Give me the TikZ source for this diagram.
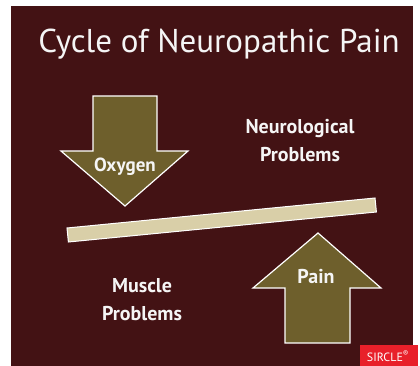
\documentclass[tikz,border=0pt]{standalone}
\usepackage{fontspec}
\setmainfont{PT Sans}
\newfontfamily\labelfont{PT Sans}
\usetikzlibrary{positioning}

\definecolor{maroonbg}{HTML}{431214}
\definecolor{olivearrow}{HTML}{6E5F2C}
\definecolor{beigebar}{HTML}{D9CFA8}
\definecolor{sirclered}{HTML}{E8202A}

\begin{document}
\begin{tikzpicture}[x=1pt, y=-1pt,
	arrowbox/.style={draw=white, line width=1.2pt, fill=olivearrow, line join=miter},
	lbl/.style={text=white!92!gray, font=\labelfont\bfseries\fontsize{20}{28}\selectfont, align=center}]
	
	\useasboundingbox (0,0) rectangle (420,366);
	
	% Background
	\fill[maroonbg] (11,6) rectangle (413,366);
	\node[text=white!92!gray, font=\fontsize{33}{40}\selectfont, anchor=base] (title) at (219,53) {Cycle of Neuropathic Pain};
	
	% Oxygen arrow
	\draw[arrowbox] (93,96) -- (157,96) -- (157,151) -- (188,151) -- (125,206) -- (61,151) -- (93,151) -- cycle;
	\node[lbl, font=\labelfont\bfseries\fontsize{19}{24}\selectfont, anchor=base] (oxygen) at (125,172) {Oxygen};
	
	% Balance bar
	\draw[draw=white, line width=1pt, fill=beigebar] (67,228) -- (375,198) -- (376.4,212) -- (68.4,242) -- cycle;
	
	% Pain arrow
	\draw[arrowbox] (318,233) -- (381,288) -- (350,288) -- (350,343) -- (285,343) -- (285,288) -- (253,288) -- cycle;
	\node[lbl, anchor=base] (pain) at (316,283) {Pain};
	
	% Problems
	\node[lbl] (neuro) at (300,141) {Neurological\\Problems};
	\node[lbl] (muscle) at (142,300) {Muscle\\Problems};
	
	% Logo
	\fill[sirclered] (360,345) rectangle (418,366);
	\node[text=white, font=\labelfont\fontsize{12}{13}\selectfont, anchor=base] (logo) at (388,361) {SIRCLE\textsuperscript{\textregistered}};
	
\end{tikzpicture}
\end{document}
